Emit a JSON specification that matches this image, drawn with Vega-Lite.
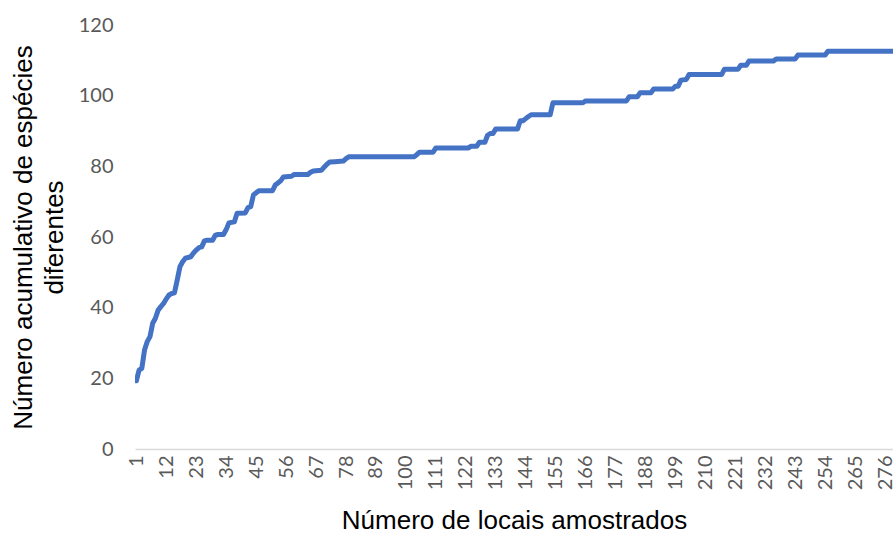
{
  "$schema": "https://vega.github.io/schema/vega-lite/v6.json",
  "autosize": "none",
  "width": 758,
  "height": 424,
  "padding": {"left": 135, "top": 25, "right": 0, "bottom": 87},
  "background": "white",
  "config": {"view": {"stroke": null}},
  "data": {"values": [
    {"x":1,"v":19.3},{"x":2,"v":22.3},{"x":3,"v":22.8},{"x":4,"v":28},{"x":5,"v":30.4},
    {"x":6,"v":31.8},{"x":7,"v":35.6},{"x":8,"v":37},{"x":9,"v":39.3},{"x":10,"v":40.3},
    {"x":11,"v":41.2},{"x":12,"v":42.5},{"x":13,"v":43.6},{"x":14,"v":44},{"x":15,"v":44.2},
    {"x":16,"v":47.8},{"x":17,"v":51.6},{"x":18,"v":53},{"x":19,"v":54},{"x":20,"v":54.2},
    {"x":21,"v":54.4},{"x":22,"v":55.5},{"x":23,"v":56.3},{"x":24,"v":57},{"x":25,"v":57.2},
    {"x":26,"v":58.9},{"x":27,"v":59.1},{"x":29,"v":59.1},{"x":30,"v":60.5},{"x":31,"v":60.7},
    {"x":33,"v":60.7},{"x":34,"v":62.1},{"x":35,"v":64},{"x":37,"v":64.3},{"x":38,"v":66.7},
    {"x":41,"v":66.8},{"x":42,"v":68.3},{"x":43,"v":68.6},{"x":44,"v":71.9},{"x":45,"v":72.5},
    {"x":46,"v":73.1},{"x":51,"v":73.1},{"x":52,"v":74.7},{"x":53,"v":75.3},{"x":54,"v":75.9},
    {"x":55,"v":77},{"x":58,"v":77.2},{"x":59,"v":77.7},{"x":64,"v":77.7},{"x":65,"v":78.3},
    {"x":66,"v":78.7},{"x":69,"v":78.9},{"x":70,"v":79.8},{"x":71,"v":80.6},{"x":72,"v":81.2},
    {"x":74,"v":81.3},{"x":77,"v":81.5},{"x":78,"v":82.2},{"x":79,"v":82.7},{"x":103,"v":82.7},
    {"x":104,"v":83.3},{"x":105,"v":84},{"x":110,"v":84},{"x":111,"v":85.2},{"x":123,"v":85.2},
    {"x":124,"v":85.7},{"x":126,"v":85.7},{"x":127,"v":86.8},{"x":129,"v":86.8},{"x":130,"v":88.8},
    {"x":131,"v":89.3},{"x":132,"v":89.3},{"x":133,"v":90.6},{"x":141,"v":90.6},{"x":142,"v":92.9},
    {"x":143,"v":92.9},{"x":144,"v":93.5},{"x":145,"v":94.1},{"x":146,"v":94.6},{"x":153,"v":94.6},
    {"x":154,"v":98},{"x":165,"v":98},{"x":166,"v":98.5},{"x":181,"v":98.5},{"x":182,"v":99.7},
    {"x":185,"v":99.7},{"x":186,"v":100.8},{"x":190,"v":100.8},{"x":191,"v":101.9},{"x":198,"v":101.9},
    {"x":199,"v":102.7},{"x":200,"v":102.7},{"x":201,"v":104.4},{"x":203,"v":104.6},{"x":204,"v":106},
    {"x":216,"v":106},{"x":217,"v":107.5},{"x":222,"v":107.5},{"x":223,"v":108.6},{"x":225,"v":108.6},
    {"x":226,"v":109.8},{"x":235,"v":109.8},{"x":236,"v":110.4},{"x":243,"v":110.4},{"x":244,"v":111.5},
    {"x":254,"v":111.5},{"x":255,"v":112.6},{"x":285,"v":112.6}
  ]},
  "mark": {"type": "line", "color": "#4472C4", "strokeWidth": 5, "strokeCap": "round", "strokeJoin": "round", "clip": true},
  "encoding": {
    "x": {
      "field": "x", "type": "quantitative",
      "scale": {"domain": [0.5, 278.9], "nice": false, "zero": false},
      "axis": {
        "values": [1,12,23,34,45,56,67,78,89,100,111,122,133,144,155,166,177,188,199,210,221,232,243,254,265,276],
        "labelAngle": -90, "labelFont": "Lato", "labelFontSize": 20, "labelColor": "#595959",
        "labelPadding": 6, "labelOverlap": false, "labelFlush": false, "ticks": false, "grid": false,
        "domainColor": "#D9D9D9", "domainWidth": 1.3,
        "title": "Número  de locais amostrados", "titleFont": "Liberation Sans", "titleFontSize": 26,
        "titleFontWeight": "normal", "titleColor": "#000000", "titlePadding": 18
      }
    },
    "y": {
      "field": "v", "type": "quantitative",
      "scale": {"domain": [0, 120], "nice": false},
      "axis": {
        "values": [0,20,40,60,80,100,120],
        "labelFont": "Lato", "labelFontSize": 20, "labelColor": "#595959", "labelPadding": 22,
        "ticks": false, "domain": false, "grid": false,
        "title": ["Número acumulativo  de  espécies", "diferentes"],
        "titleFont": "Liberation Sans", "titleFontSize": 26, "titleFontWeight": "normal",
        "titleColor": "#000000", "titleLineHeight": 31, "titleBaseline": "top", "titleX": -125
      }
    }
  }
}
